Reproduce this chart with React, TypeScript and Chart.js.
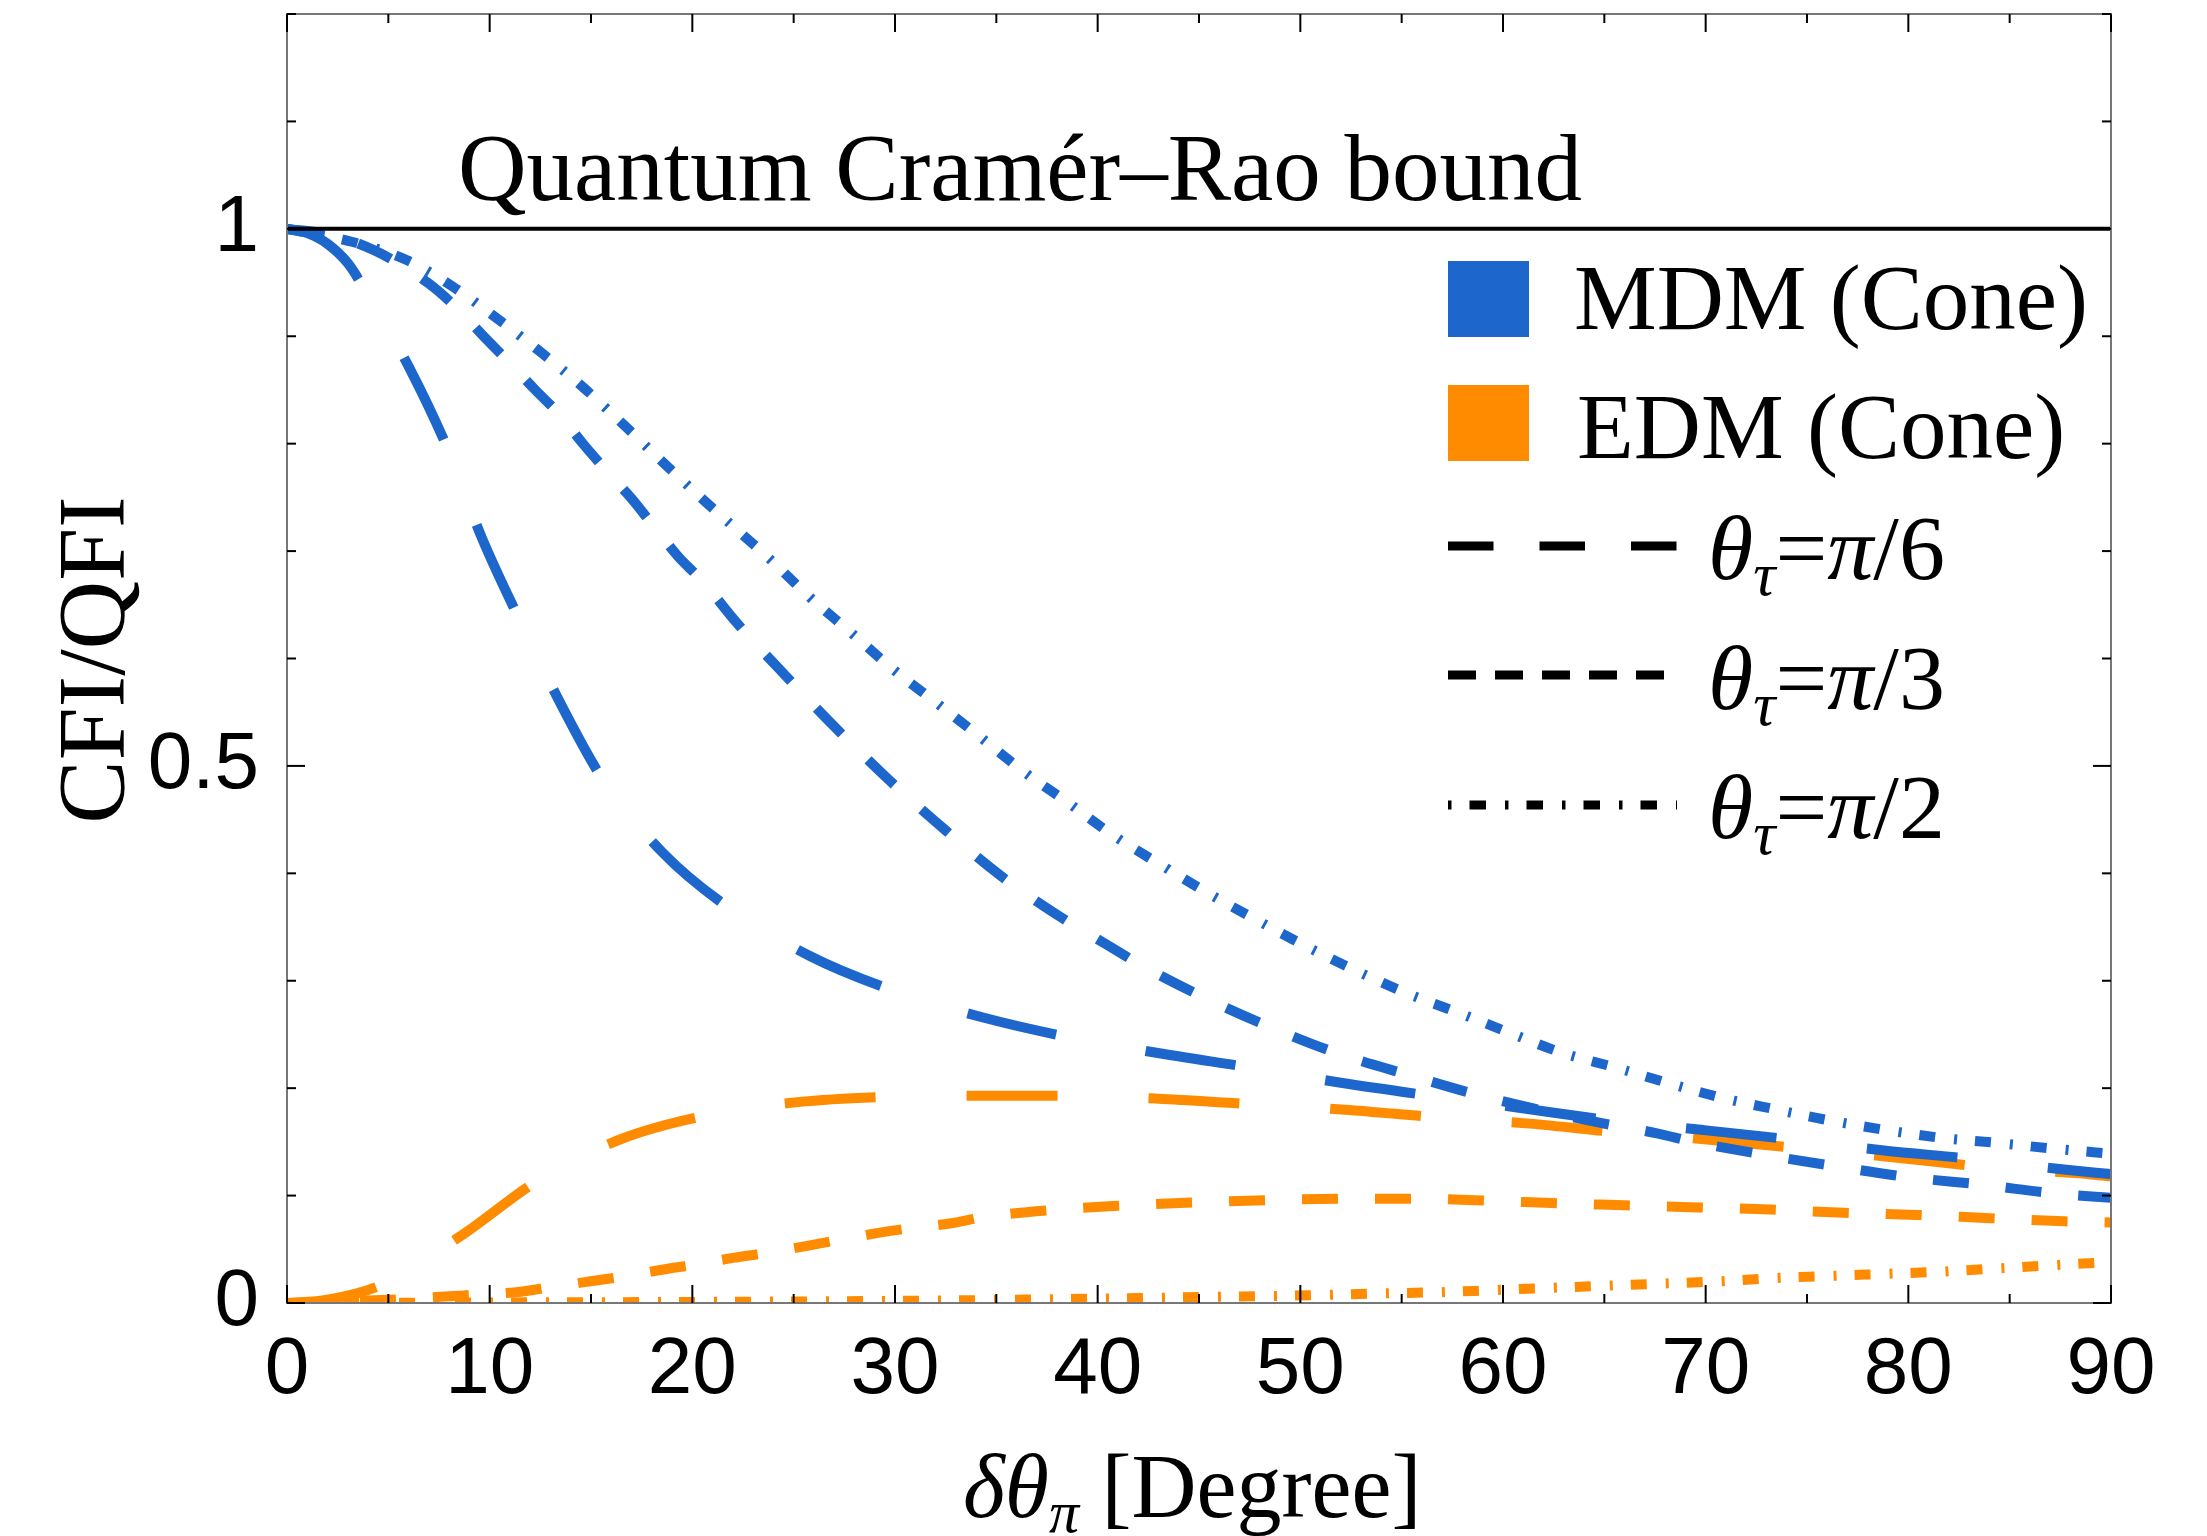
import React, { useEffect, useRef } from 'react';
import { Chart, registerables } from 'chart.js';

Chart.register(...registerables);

// ---------------- data ----------------
const mdmPi6X = [0, 1, 2, 3, 3.85, 6, 8, 9.6, 11.45, 13.5, 15.6, 18.5, 21.5, 25.8, 29.9, 34.3, 38.7, 43.2, 47.6, 52, 56.4, 60.7, 65.3, 69.9, 74.3, 78.8, 83.2, 87.8, 90];
const mdmPi6Y = [1, 0.996, 0.986, 0.968, 0.943, 0.872, 0.792, 0.713, 0.637, 0.558, 0.487, 0.42, 0.372, 0.323, 0.291, 0.266, 0.247, 0.232, 0.219, 0.205, 0.193, 0.182, 0.17, 0.161, 0.152, 0.142, 0.134, 0.124, 0.12];

const mdmPi3X = [0, 2, 4.3, 7, 8.5, 9.7, 11, 12.2, 13.5, 14.6, 15.8, 17, 18.1, 19.3, 20.5, 22.2, 24.7, 27.2, 29.7, 32.5, 35.2, 38.2, 40.5, 42, 45.3, 48.5, 51.9, 55.4, 58.9, 62, 65, 67.6, 69.4, 72.9, 76.5, 80.1, 83.7, 87.2, 90];
const mdmPi3Y = [1, 0.995, 0.98, 0.949, 0.924, 0.9, 0.875, 0.851, 0.826, 0.8, 0.774, 0.749, 0.723, 0.695, 0.672, 0.633, 0.582, 0.533, 0.487, 0.44, 0.398, 0.359, 0.333, 0.316, 0.284, 0.257, 0.232, 0.212, 0.193, 0.179, 0.167, 0.158, 0.15, 0.138, 0.127, 0.117, 0.11, 0.102, 0.098];

const mdmPi2X = [0, 3.2, 5.9, 8.2, 10.4, 12.6, 14.7, 16.7, 18.7, 20.7, 23.8, 25.8, 27.9, 29.9, 32.1, 34.2, 36.4, 38.6, 40.8, 43.2, 45.5, 47.9, 50.3, 52.8, 55.3, 57.7, 60.4, 62.9, 65.6, 68.1, 70.8, 73.5, 76.1, 78.9, 81.5, 84.4, 87, 90];
const mdmPi2Y = [1, 0.988, 0.971, 0.946, 0.916, 0.884, 0.851, 0.816, 0.78, 0.745, 0.693, 0.657, 0.623, 0.59, 0.558, 0.527, 0.494, 0.465, 0.435, 0.407, 0.381, 0.356, 0.332, 0.309, 0.288, 0.271, 0.251, 0.233, 0.219, 0.205, 0.191, 0.18, 0.17, 0.161, 0.154, 0.149, 0.144, 0.139];

const edmPi6X = [0, 2, 4.8, 6.5, 8.7, 12.3, 16.4, 20.8, 25.2, 29.7, 34.2, 38.7, 43.2, 47.7, 52.2, 56.7, 61.3, 65.6, 70.2, 74.6, 79.1, 83.6, 88.2, 90];
const edmPi6Y = [0, 0.003, 0.018, 0.038, 0.064, 0.113, 0.152, 0.175, 0.187, 0.192, 0.193, 0.193, 0.19, 0.185, 0.18, 0.173, 0.167, 0.159, 0.152, 0.144, 0.136, 0.127, 0.121, 0.118];

const edmPi3X = [0, 5, 7.8, 9.5, 11.3, 13.1, 14.9, 16.7, 18.5, 20.2, 22, 23.8, 25.6, 27.3, 29.1, 30.9, 32.7, 34.4, 38, 41.6, 45.2, 48.8, 52.4, 56, 59.6, 62.4, 66, 69.6, 73.2, 76.8, 80.4, 84, 87.7, 90];
const edmPi3Y = [0, 0.003, 0.006, 0.008, 0.01, 0.015, 0.02, 0.025, 0.031, 0.036, 0.042, 0.047, 0.053, 0.059, 0.065, 0.07, 0.074, 0.08, 0.087, 0.091, 0.094, 0.096, 0.097, 0.097, 0.095, 0.093, 0.091, 0.089, 0.087, 0.084, 0.082, 0.079, 0.076, 0.075];

const edmPi2X = [0, 10, 20, 30, 40, 45, 51.3, 54.1, 56.8, 59.5, 62.2, 64.9, 67.7, 70.5, 73.2, 75.9, 78.7, 81.4, 84.2, 86.9, 90];
const edmPi2Y = [0, 0.0005, 0.001, 0.002, 0.004, 0.0055, 0.0075, 0.009, 0.01, 0.012, 0.014, 0.016, 0.018, 0.02, 0.023, 0.025, 0.027, 0.029, 0.032, 0.035, 0.038];

const boundX = [0, 90];
const boundY = [1, 1];

const xTickLabels = [0, 10, 20, 30, 40, 50, 60, 70, 80, 90];
const xTickMarks = [0, 5, 10, 15, 20, 25, 30, 35, 40, 45, 50, 55, 60, 65, 70, 75, 80, 85, 90];
const yTickLabelValues = [0, 0.5, 1];
const yTickLabelTexts = ['0', '0.5', '1'];
const yTickMarks = [0, 0.1, 0.2, 0.3, 0.4, 0.5, 0.6, 0.7, 0.8, 0.9, 1, 1.1, 1.2];

const legendSeries = ['MDM (Cone)', 'EDM (Cone)'];
const legendStyles = ['π/6', 'π/3', 'π/2'];
const boundLabel = 'Quantum Cramér–Rao bound';
const yTitle = 'CFI/QFI';

// ---------------- styles ----------------
const BLUE = '#1D66CC';
const ORANGE = '#FF8C00';
const DASH_PI6 = [91, 91];
const DASH_PI3 = [36, 37];
const DASH_PI2 = [16, 19, 3, 18];
const SERIF = '"Liberation Serif", "Times New Roman", serif';
const SANS = '"Liberation Sans", Arial, sans-serif';

const pts = (xs: number[], ys: number[]) => xs.map((x, i) => ({ x, y: ys[i] }));

type Run = { t: string; f: string; dy?: number };
function drawRuns(ctx: CanvasRenderingContext2D, x: number, y: number, runs: Run[]) {
  let cx = x;
  for (const r of runs) {
    ctx.font = r.f;
    ctx.fillText(r.t, cx, y + (r.dy || 0));
    cx += ctx.measureText(r.t).width;
  }
}

const decorPlugin = {
  id: 'decor',
  afterDraw(chart: any) {
    const { ctx, chartArea: a, scales } = chart;
    const xs = scales.x;
    const ys = scales.y;
    ctx.save();
    // frame
    ctx.strokeStyle = '#777';
    ctx.lineWidth = 2;
    ctx.strokeRect(a.left, a.top, a.right - a.left, a.bottom - a.top);
    // ticks
    ctx.strokeStyle = '#000';
    ctx.lineWidth = 2;
    const seg = (x1: number, y1: number, x2: number, y2: number) => {
      ctx.beginPath();
      ctx.moveTo(x1, y1);
      ctx.lineTo(x2, y2);
      ctx.stroke();
    };
    for (const v of xTickMarks) {
      const len = v % 10 === 0 ? 18 : 9;
      const px = xs.getPixelForValue(v);
      seg(px, a.bottom, px, a.bottom - len);
      seg(px, a.top, px, a.top + len);
    }
    for (const v of yTickMarks) {
      const major = Math.abs(v * 2 - Math.round(v * 2)) < 1e-6;
      const len = major ? 18 : 9;
      const py = ys.getPixelForValue(v);
      seg(a.left, py, a.left + len, py);
      seg(a.right, py, a.right - len, py);
    }

    ctx.fillStyle = '#000';
    ctx.textAlign = 'left';
    ctx.textBaseline = 'alphabetic';

    // bound annotation
    ctx.font = `95px ${SERIF}`;
    ctx.fillText(boundLabel, 458, 200);

    // legend: colour squares
    ctx.fillStyle = BLUE;
    ctx.fillRect(1448, 261, 81, 76);
    ctx.fillStyle = ORANGE;
    ctx.fillRect(1448, 385, 81, 76);
    ctx.fillStyle = '#000';
    ctx.font = `93px ${SERIF}`;
    ctx.fillText(legendSeries[0], 1574, 329);
    ctx.fillText(legendSeries[1], 1577, 458);

    // legend: line styles
    const sampleY = [546, 675, 805];
    const sampleEnd = [1677, 1664, 1677];
    const sampleDash = [[45.5, 46], [28, 19], [3.5, 18, 16.5, 19]];
    ctx.strokeStyle = '#000';
    ctx.lineWidth = 9;
    ctx.lineCap = 'butt';
    for (let i = 0; i < 3; i++) {
      ctx.setLineDash(sampleDash[i]);
      seg(1448, sampleY[i], sampleEnd[i], sampleY[i]);
    }
    ctx.setLineDash([]);
    const textBase = [579, 709, 838];
    for (let i = 0; i < 3; i++) {
      const [pi, rest] = [legendStyles[i].slice(0, 1), legendStyles[i].slice(1)];
      drawRuns(ctx, 1708, textBase[i], [
        { t: 'θ', f: `italic 92px ${SERIF}` },
        { t: 'τ', f: `italic 62px ${SERIF}`, dy: 16 },
        { t: '=', f: `92px ${SERIF}` },
        { t: pi, f: `italic 92px ${SERIF}` },
        { t: rest, f: `92px ${SERIF}` },
      ]);
    }

    // x-axis title
    drawRuns(ctx, 963, 1517, [
      { t: 'δθ', f: `italic 90px ${SERIF}` },
      { t: 'π', f: `italic 60px ${SERIF}`, dy: 15 },
      { t: ' [Degree]', f: `90px ${SERIF}` },
    ]);

    // y-axis title
    ctx.save();
    ctx.translate(124, 660);
    ctx.rotate(-Math.PI / 2);
    ctx.textAlign = 'center';
    ctx.font = `95px ${SERIF}`;
    ctx.fillText(yTitle, 0, 0);
    ctx.restore();

    ctx.restore();
  },
};

export default function App() {
  const ref = useRef<HTMLCanvasElement | null>(null);

  useEffect(() => {
    if (!ref.current) return;
    const common = {
      pointRadius: 0,
      borderWidth: 10,
      fill: false,
      cubicInterpolationMode: 'monotone' as const,
      borderCapStyle: 'butt' as const,
      clip: 0,
    };
    const chart = new Chart(ref.current, {
      type: 'line',
      data: {
        datasets: [
          { ...common, label: 'bound', data: pts(boundX, boundY), borderColor: '#000', borderWidth: 4, clip: 2 },
          { ...common, label: 'MDM π/6', data: pts(mdmPi6X, mdmPi6Y), borderColor: BLUE, borderDash: DASH_PI6 },
          { ...common, label: 'MDM π/3', data: pts(mdmPi3X, mdmPi3Y), borderColor: BLUE, borderDash: DASH_PI3 },
          { ...common, label: 'MDM π/2', data: pts(mdmPi2X, mdmPi2Y), borderColor: BLUE, borderDash: DASH_PI2 },
          { ...common, label: 'EDM π/6', data: pts(edmPi6X, edmPi6Y), borderColor: ORANGE, borderDash: DASH_PI6 },
          { ...common, label: 'EDM π/3', data: pts(edmPi3X, edmPi3Y), borderColor: ORANGE, borderDash: DASH_PI3 },
          { ...common, label: 'EDM π/2', data: pts(edmPi2X, edmPi2Y), borderColor: ORANGE, borderDash: DASH_PI2 },
        ],
      },
      options: {
        responsive: false,
        devicePixelRatio: 1,
        animation: false,
        events: [],
        layout: { padding: { top: 14, right: 96, left: 0, bottom: 0 } },
        plugins: { legend: { display: false }, tooltip: { enabled: false }, title: { display: false } },
        scales: {
          x: {
            type: 'linear',
            min: 0,
            max: 90,
            grid: { display: false },
            border: { display: false },
            ticks: {
              stepSize: 10,
              autoSkip: false,
              maxRotation: 0,
              padding: 12,
              color: '#000',
              font: { family: SANS, size: 80 },
              callback: (v: any) => (xTickLabels.includes(Number(v)) ? String(v) : ''),
            },
            afterFit: (s: any) => {
              s.height = 233;
              s.paddingLeft = 0;
              s.paddingRight = 0;
            },
          },
          y: {
            type: 'linear',
            min: 0,
            max: 1.2,
            grid: { display: false },
            border: { display: false },
            ticks: {
              stepSize: 0.1,
              autoSkip: false,
              padding: 20,
              color: '#000',
              font: { family: SANS, size: 80 },
              callback: (v: any) => {
                const idx = yTickLabelValues.findIndex((t) => Math.abs(t - Number(v)) < 1e-6);
                return idx < 0 ? '' : yTickLabelTexts[idx];
              },
            },
            afterFit: (s: any) => {
              s.width = 287;
              s.paddingTop = 0;
              s.paddingBottom = 0;
            },
          },
        },
      },
      plugins: [decorPlugin],
    } as any);
    return () => chart.destroy();
  }, []);

  return (
    <div style={{ position: 'absolute', left: 0, top: 0, width: 2207, height: 1536, background: '#fff' }}>
      <canvas ref={ref} width={2207} height={1536} style={{ display: 'block' }} />
    </div>
  );
}
